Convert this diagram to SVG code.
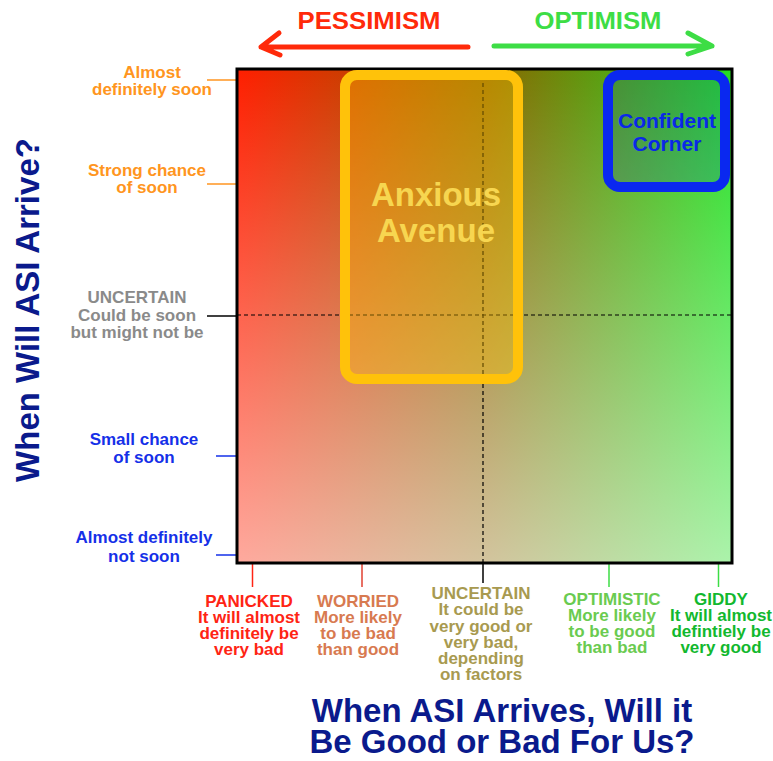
<svg xmlns="http://www.w3.org/2000/svg" width="773" height="761" viewBox="0 0 773 761">
<defs>
<linearGradient id="hz" x1="0" y1="0" x2="1" y2="0">
<stop offset="0" stop-color="#FF1E00"/>
<stop offset="0.5" stop-color="#8C6400"/>
<stop offset="1" stop-color="#22E022"/>
</linearGradient>
<linearGradient id="vt" x1="0" y1="0" x2="0" y2="1">
<stop offset="0" stop-color="#FFFFFF" stop-opacity="0"/>
<stop offset="1" stop-color="#FFFFFF" stop-opacity="0.62"/>
</linearGradient>
</defs>
<style>
text{font-family:"Liberation Sans",Arial,Helvetica,sans-serif;font-weight:bold;text-anchor:middle}
.lbl{font-size:17px}
.org{fill:#FF9520}.gry{fill:#8A8A8A}.blu{fill:#1530E8}
.pan{fill:#FF2414}.wor{fill:#D87A50}.unc{fill:#A89A50}.opt{fill:#6ACB50}.gid{fill:#12B82E}
.title{font-size:33px;fill:#0A1A8C}
.tick{stroke-width:1.5;fill:none}
.dash{stroke:#000;stroke-width:1.2;stroke-dasharray:4 3;fill:none}
.arr{stroke-width:5;stroke-linecap:round;stroke-linejoin:round;fill:none}
</style>
<rect width="773" height="761" fill="#FFFFFF"/>

<g id="header">
<text x="369" y="29" font-size="24" textLength="143" lengthAdjust="spacingAndGlyphs" fill="#FF2A0A">PESSIMISM</text>
<text x="598" y="29" font-size="24" textLength="127" lengthAdjust="spacingAndGlyphs" fill="#3DDD45">OPTIMISM</text>
</g>

<g id="connectors">
<path class="arr" stroke="#FF2A0A" d="M468 47 L261 47 M279 33 L261 47 L280 55"/>
<path class="arr" stroke="#3DDD45" d="M494 46 L712 46 M688 33 L712 46 L688 54"/>
<line class="tick" stroke="#FF9520" x1="207" y1="80" x2="237" y2="80"/>
<line class="tick" stroke="#FF9520" x1="207" y1="184" x2="237" y2="184"/>
<line class="tick" stroke="#000" x1="207" y1="316" x2="237" y2="316"/>
<line class="tick" stroke="#1530E8" x1="216" y1="456" x2="237" y2="456"/>
<line class="tick" stroke="#1530E8" x1="216" y1="555" x2="237" y2="555"/>
<line class="tick" stroke="#FF2414" x1="252.5" y1="564" x2="252.5" y2="587"/>
<line class="tick" stroke="#E04030" x1="362" y1="564" x2="362" y2="587"/>
<line class="tick" stroke="#000" x1="483" y1="564" x2="483" y2="583"/>
<line class="tick" stroke="#3DDD45" x1="609" y1="564" x2="609" y2="587"/>
<line class="tick" stroke="#3DDD45" x1="718.5" y1="564" x2="718.5" y2="587"/>
</g>

<g id="plot">
<rect x="237" y="69" width="495" height="494" fill="url(#hz)"/>
<rect x="237" y="69" width="495" height="494" fill="url(#vt)"/>
<line class="dash" x1="237" y1="315" x2="732" y2="315"/>
<line class="dash" x1="483" y1="69" x2="483" y2="563"/>
<rect x="237" y="69" width="495" height="494" fill="none" stroke="#000" stroke-width="3"/>
</g>

<g id="anxious-avenue">
<rect x="345" y="75" width="173" height="304" rx="12" fill="#FFC000" fill-opacity="0.38" stroke="#FFC20A" stroke-width="10"/>
<text x="436" y="206" font-size="33" fill="#F7D650">Anxious</text>
<text x="436" y="242" font-size="33" fill="#F7D650">Avenue</text>
</g>

<g id="confident-corner">
<rect x="608" y="75" width="117" height="112" rx="12" fill="#1040C0" fill-opacity="0.2" stroke="#0A28F0" stroke-width="10"/>
<text x="667" y="128" font-size="21" fill="#0A28E8">Confident</text>
<text x="667" y="151" font-size="21" fill="#0A28E8">Corner</text>
</g>

<g id="y-labels">
<text class="lbl org" x="152" y="78">Almost</text>
<text class="lbl org" x="152" y="95">definitely soon</text>
<text class="lbl org" x="147" y="176">Strong chance</text>
<text class="lbl org" x="147" y="193">of soon</text>
<text class="lbl gry" x="137" y="303">UNCERTAIN</text>
<text class="lbl gry" x="137" y="321">Could be soon</text>
<text class="lbl gry" x="137" y="338">but might not be</text>
<text class="lbl blu" x="144" y="445">Small chance</text>
<text class="lbl blu" x="144" y="463">of soon</text>
<text class="lbl blu" x="144" y="543">Almost definitely</text>
<text class="lbl blu" x="144" y="562">not soon</text>
</g>

<g id="x-labels">
<text class="lbl pan" x="249" y="607">PANICKED</text>
<text class="lbl pan" x="249" y="623">It will almost</text>
<text class="lbl pan" x="249" y="639">definitely be</text>
<text class="lbl pan" x="249" y="655">very bad</text>
<text class="lbl wor" x="358" y="607">WORRIED</text>
<text class="lbl wor" x="358" y="623">More likely</text>
<text class="lbl wor" x="358" y="639">to be bad</text>
<text class="lbl wor" x="358" y="655">than good</text>
<text class="lbl unc" x="481" y="599">UNCERTAIN</text>
<text class="lbl unc" x="481" y="615">It could be</text>
<text class="lbl unc" x="481" y="632">very good or</text>
<text class="lbl unc" x="481" y="648">very bad,</text>
<text class="lbl unc" x="481" y="664">depending</text>
<text class="lbl unc" x="481" y="680">on factors</text>
<text class="lbl opt" x="612" y="605">OPTIMISTIC</text>
<text class="lbl opt" x="612" y="621">More likely</text>
<text class="lbl opt" x="612" y="637">to be good</text>
<text class="lbl opt" x="612" y="653">than bad</text>
<text class="lbl gid" x="721" y="605">GIDDY</text>
<text class="lbl gid" x="721" y="621">It will almost</text>
<text class="lbl gid" x="721" y="637">defintiely be</text>
<text class="lbl gid" x="721" y="653">very good</text>
</g>

<g id="axis-titles">
<text class="title" transform="translate(39 310) rotate(-90)">When Will ASI Arrive?</text>
<text class="title" x="502" y="722">When ASI Arrives, Will it</text>
<text class="title" x="502" y="753">Be Good or Bad For Us?</text>
</g>
</svg>
